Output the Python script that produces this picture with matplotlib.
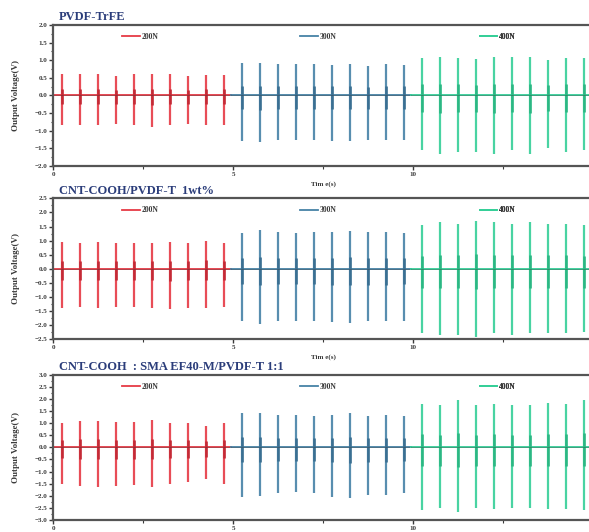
import numpy as np
import matplotlib
matplotlib.use("Agg")
import matplotlib.pyplot as plt
from matplotlib.ticker import MultipleLocator

# pulse times (s) for each load
t_200 = [0.25, 0.75, 1.25, 1.75, 2.25, 2.75, 3.25, 3.75, 4.25, 4.75]
t_300 = [5.25, 5.75, 6.25, 6.75, 7.25, 7.75, 8.25, 8.75, 9.25, 9.75]
t_400 = [10.25, 10.75, 11.25, 11.75, 12.25, 12.75, 13.25, 13.75, 14.25, 14.75]

titles = ["PVDF-TrFE", "CNT-COOH/PVDF-T  1wt%", "CNT-COOH  : SMA EF40-M/PVDF-T 1:1"]
loads = ["200N", "300N", "400N"]

# positive / negative peak voltages (V) per panel and load
pos_1 = {
    "200N": [0.60, 0.62, 0.60, 0.55, 0.60, 0.62, 0.60, 0.55, 0.57, 0.58],
    "300N": [0.92, 0.92, 0.90, 0.90, 0.88, 0.87, 0.90, 0.85, 0.88, 0.87],
    "400N": [1.05, 1.08, 1.05, 1.03, 1.10, 1.08, 1.08, 1.00, 1.05, 1.05],
}
neg_1 = {
    "200N": [-0.85, -0.85, -0.85, -0.80, -0.85, -0.88, -0.85, -0.82, -0.85, -0.85],
    "300N": [-1.30, -1.33, -1.25, -1.27, -1.27, -1.30, -1.30, -1.27, -1.25, -1.25],
    "400N": [-1.55, -1.65, -1.60, -1.60, -1.65, -1.55, -1.65, -1.48, -1.60, -1.55],
}
pos_2 = {
    "200N": [0.95, 0.92, 0.95, 0.92, 0.93, 0.93, 0.95, 0.92, 0.97, 0.92],
    "300N": [1.27, 1.38, 1.30, 1.27, 1.30, 1.30, 1.35, 1.30, 1.30, 1.28],
    "400N": [1.55, 1.65, 1.60, 1.70, 1.65, 1.60, 1.65, 1.60, 1.58, 1.55],
}
neg_2 = {
    "200N": [-1.40, -1.35, -1.40, -1.35, -1.35, -1.40, -1.42, -1.40, -1.40, -1.35],
    "300N": [-1.85, -1.98, -1.85, -1.87, -1.85, -1.90, -1.95, -1.88, -1.88, -1.85],
    "400N": [-2.30, -2.35, -2.35, -2.45, -2.30, -2.35, -2.30, -2.30, -2.30, -2.25],
}
pos_3 = {
    "200N": [1.00, 1.10, 1.10, 1.05, 1.05, 1.15, 1.00, 1.00, 0.90, 1.00],
    "300N": [1.40, 1.40, 1.35, 1.35, 1.30, 1.35, 1.40, 1.30, 1.35, 1.30],
    "400N": [1.80, 1.75, 1.95, 1.75, 1.80, 1.75, 1.75, 1.85, 1.80, 1.95],
}
neg_3 = {
    "200N": [-1.50, -1.60, -1.65, -1.60, -1.55, -1.65, -1.50, -1.45, -1.30, -1.50],
    "300N": [-2.05, -2.00, -1.90, -1.85, -1.90, -2.05, -2.10, -1.95, -1.95, -1.90],
    "400N": [-2.60, -2.50, -2.65, -2.50, -2.55, -2.50, -2.50, -2.55, -2.55, -2.60],
}
ylims = [2.0, 2.5, 3.0]

times = {"200N": t_200, "300N": t_300, "400N": t_400}
spans = {"200N": (0.0, 4.95), "300N": (4.95, 9.95), "400N": (9.95, 15.0)}
colors = {"200N": "#e63a45", "300N": "#4682a6", "400N": "#35cf98"}
cores = {"200N": "#c42a36", "300N": "#3a6f92", "400N": "#2bb783"}
leg_x = {"200N": 0.128, "300N": 0.458, "400N": 0.79}

serif = "Liberation Serif"
navy = "#2b3d7a"
grey = "#3a3a3a"

fig = plt.figure(figsize=(5.89, 5.32), dpi=100)
boxes = [(0.0905, 0.688, 0.916, 0.265),
         (0.0905, 0.363, 0.916, 0.264),
         (0.0905, 0.0226, 0.916, 0.273)]

for i, (pos, neg) in enumerate([(pos_1, neg_1), (pos_2, neg_2), (pos_3, neg_3)]):
    ax = fig.add_axes(boxes[i])
    for load in loads:
        c = colors[load]
        a, b = spans[load]
        h, = ax.plot([a, b], [0, 0], color=c, lw=1.3, label=load)
        ax.vlines(times[load], neg[load], pos[load], color=c, lw=1.6, alpha=0.9)
        # darker core near the baseline
        core_lo = np.array(neg[load]) * 0.3
        core_hi = np.array(pos[load]) * 0.3
        ax.vlines(times[load], core_lo, core_hi, color=cores[load], lw=1.9)
        ax.plot([a, b], [0, 0], color="#333333", lw=0.5, alpha=0.45)
        leg = ax.legend([h], [load], loc="center left", bbox_to_anchor=(leg_x[load], 0.915),
                        frameon=False, borderpad=0, borderaxespad=0, handlelength=2.3,
                        handletextpad=0.25, prop={"family": serif, "weight": "bold", "size": 5.5})
        for txt in leg.get_texts():
            txt.set_color(grey)
        ax.add_artist(leg)

    lim = ylims[i]
    ax.set_xlim(0, 15)
    ax.set_ylim(-lim, lim)
    ax.xaxis.set_major_locator(MultipleLocator(5))
    ax.xaxis.set_minor_locator(MultipleLocator(2.5))
    ax.yaxis.set_major_locator(MultipleLocator(0.5))
    ax.yaxis.set_minor_locator(MultipleLocator(0.25))
    ax.tick_params(which="major", direction="out", length=3, width=1, colors=grey,
                   labelsize=5, pad=1.5)
    ax.tick_params(which="minor", direction="out", length=1.8, width=0.8, colors=grey)
    for lab in ax.get_xticklabels() + ax.get_yticklabels():
        lab.set_fontfamily(serif)
        lab.set_fontweight("bold")
    for s in ax.spines.values():
        s.set_color("#555555")
        s.set_linewidth(1.6)

    if i < 2:
        ax.set_xlabel("Tim e(s)", fontsize=5, fontfamily=serif, fontweight="bold",
                      color=grey, labelpad=3)
    ax.set_ylabel("Output Voltage(V)", fontsize=6.5, fontfamily=serif, fontweight="bold",
                  color=grey, labelpad=10)
    ax.text(0.01, 1.012, titles[i], transform=ax.transAxes, ha="left", va="bottom",
            fontsize=9, fontfamily=serif, fontweight="bold", color=navy)

fig.savefig("out.png", dpi=100)
